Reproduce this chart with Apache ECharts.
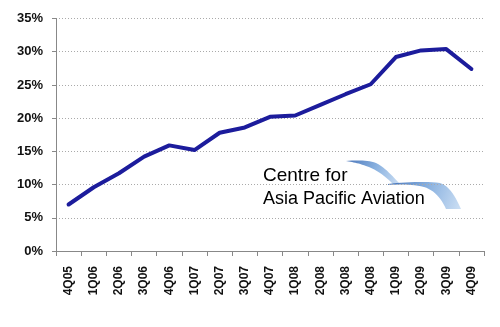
<!DOCTYPE html>
<html><head><meta charset="utf-8">
<script src="https://cdn.jsdelivr.net/npm/echarts@6/dist/echarts.min.js"></script>
<style>html,body{margin:0;padding:0;background:#fff}#c{width:500px;height:327px}</style>
</head><body><div id="c"></div>
<script>
var categories = ['4Q05','1Q06','2Q06','3Q06','4Q06','1Q07','2Q07','3Q07','4Q07','1Q08','2Q08','3Q08','4Q08','1Q09','2Q09','3Q09','4Q09'];
var values = [7.0, 9.6, 11.7, 14.2, 15.9, 15.2, 17.8, 18.6, 20.2, 20.4, 22.0, 23.6, 25.1, 29.2, 30.2, 30.4, 27.4];
var yTicks = [0, 5, 10, 15, 20, 25, 30, 35];

// logo decoration helper: sample cubic bezier segments into polygon points
function bez(segs) {
  var pts = [];
  segs.forEach(function (s) {
    for (var i = 0; i <= 12; i++) {
      var t = i / 12, u = 1 - t;
      pts.push([
        u*u*u*s[0][0] + 3*u*u*t*s[1][0] + 3*u*t*t*s[2][0] + t*t*t*s[3][0],
        u*u*u*s[0][1] + 3*u*u*t*s[1][1] + 3*u*t*t*s[2][1] + t*t*t*s[3][1]
      ]);
    }
  });
  return pts;
}
function grad() {
  return {type: 'linear', x: 0, y: 0, x2: 1, y2: 1, global: false, colorStops: [
    {offset: 0, color: '#2b5fae'}, {offset: 0.5, color: '#74a3da'}, {offset: 1, color: '#c4daf2'}
  ]};
}
var swoosh1 = bez([
  [[346,161],[358,160],[368,160],[376,163]],
  [[376,163],[386,168],[392,176],[400,184]],
  [[394,185],[386,177],[378,170],[366,166]],
  [[366,166],[358,163],[352,162],[346,161]]
]);
var swoosh2 = bez([
  [[388,184],[405,182],[425,181],[440,183]],
  [[440,183],[450,186],[456,198],[461,209]],
  [[446,209],[441,198],[434,190],[424,187]],
  [[424,187],[412,184],[398,184],[388,185]]
]);

var chart = echarts.init(document.getElementById('c'), null, {renderer: 'canvas'});
chart.setOption({
  animation: false,
  grid: {left: 56, right: 16, top: 18.5, bottom: 76, containLabel: false},
  xAxis: {
    type: 'category', data: categories, boundaryGap: true,
    axisLine: {lineStyle: {color: '#888', width: 1}},
    axisTick: {show: true, length: 5, lineStyle: {color: '#888'}},
    axisLabel: {rotate: 90, margin: 15, fontFamily: 'Liberation Sans', fontWeight: 'bold', fontSize: 12, color: '#111'}
  },
  yAxis: {
    type: 'value', min: yTicks[0], max: yTicks[yTicks.length - 1], interval: 5,
    axisLine: {show: true, lineStyle: {color: '#888', width: 1}},
    axisTick: {show: true, length: 4, lineStyle: {color: '#888'}},
    splitLine: {show: true, lineStyle: {color: '#aaa', type: [1, 2], width: 1}},
    axisLabel: {margin: 13, formatter: '{value}%', fontFamily: 'Liberation Sans', fontWeight: 'bold', fontSize: 13, color: '#111'}
  },
  series: [{
    type: 'line', data: values, symbol: 'none',
    lineStyle: {color: '#1c1c9c', width: 4, join: 'round', cap: 'round'}
  }],
  graphic: [
    {type: 'polygon', shape: {points: swoosh1}, style: {fill: grad(), opacity: 0.85}},
    {type: 'polygon', shape: {points: swoosh2}, style: {fill: grad(), opacity: 0.85}},
    {type: 'text', x: 263, y: 166, style: {text: 'Centre for', fontFamily: 'Liberation Sans', fontSize: 19, fill: '#000'}},
    {type: 'text', x: 263, y: 190, style: {text: 'Asia Pacific Aviation', fontFamily: 'Liberation Sans', fontSize: 18, fill: '#000'}}
  ]
});
</script></body></html>
